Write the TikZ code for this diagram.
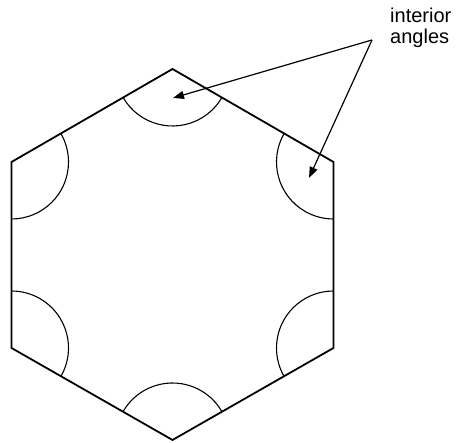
\documentclass[tikz,border=0pt]{standalone}
\usepackage{fontspec}
\setmainfont{Liberation Sans}
\usetikzlibrary{arrows.meta}
\begin{document}
\begin{tikzpicture}[x=1pt,y=1pt,
  hexline/.style={line width=1.8pt,line join=miter},
  anglearc/.style={line width=1.1pt},
  pointer/.style={line width=1.2pt,-{Triangle[length=11pt,width=8pt]}},
  labeltext/.style={font=\fontsize{20}{21}\selectfont,align=left,inner sep=0pt}]
\useasboundingbox (0,0) rectangle (456,443);
\coordinate (T) at (172.5,374);
\coordinate (UR) at (333.5,281);
\coordinate (LR) at (333.5,95);
\coordinate (B) at (172.5,3);
\coordinate (LL) at (11.5,95);
\coordinate (UL) at (11.5,281);
\draw[hexline] (T) -- (UR) -- (LR) -- (B) -- (LL) -- (UL) -- cycle;
\def\rr{57}
\draw[anglearc] (T) ++(210:\rr) arc[start angle=210,end angle=330,radius=\rr];
\draw[anglearc] (UR) ++(150:\rr) arc[start angle=150,end angle=270,radius=\rr];
\draw[anglearc] (LR) ++(90:\rr) arc[start angle=90,end angle=210,radius=\rr];
\draw[anglearc] (B) ++(30:\rr) arc[start angle=30,end angle=150,radius=\rr];
\draw[anglearc] (LL) ++(-30:\rr) arc[start angle=-30,end angle=90,radius=\rr];
\draw[anglearc] (UL) ++(-90:\rr) arc[start angle=-90,end angle=30,radius=\rr];
\node[labeltext,anchor=north west] (lbl) at (390,435) {interior\\angles};
\coordinate (src) at (372,403);
\coordinate (tipA) at (173,345);
\coordinate (tipB) at (309,265);
\draw[pointer] (src) -- (tipA);
\draw[pointer] (src) -- (tipB);
\end{tikzpicture}
\end{document}
